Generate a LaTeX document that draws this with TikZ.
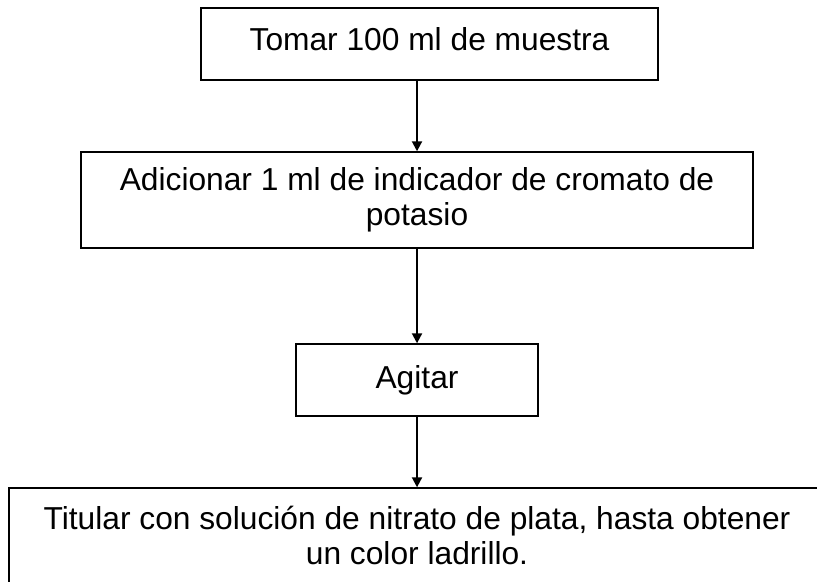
\documentclass[tikz,border=0pt]{standalone}
\usepackage{fontspec}
\setmainfont{Liberation Sans}
\usetikzlibrary{arrows.meta}
\tikzset{
	paso/.style={draw, line width=1.1pt, align=center, inner sep=0pt},
	flecha/.style={line width=1.5pt, ->, >={Triangle[length=7.5pt, width=7.5pt]}}
}
\begin{document}
\begin{tikzpicture}[font=\fontsize{23.8}{26.3}\selectfont]
		\useasboundingbox (0, 0) rectangle (21.535, 15.315);
		\node[paso, minimum width=12.046cm, minimum height=1.898cm, text depth=8pt] (muestra) at (11.321, 14.155){Tomar 100 ml de muestra};
		\node[paso, minimum width=17.713cm, minimum height=2.530cm] (indicador) at (10.992, 10.043){Adicionar 1 ml de indicador de cromato de\\potasio};
		\node[paso, minimum width=6.379cm, minimum height=1.898cm] (agitar) at (10.992, 5.298){Agitar};
		\node[paso, minimum width=21.509cm, minimum height=2.504cm] (titular) at (10.992, 1.199){Titular con solución de nitrato de plata, hasta obtener\\un color ladrillo.};
		\draw[flecha](muestra.south -| indicador.north) -- (indicador.north);
		\draw[flecha](indicador.south) -- (agitar.north);
		\draw[flecha](agitar.south) -- (titular.north);
	\end{tikzpicture}
\end{document}
